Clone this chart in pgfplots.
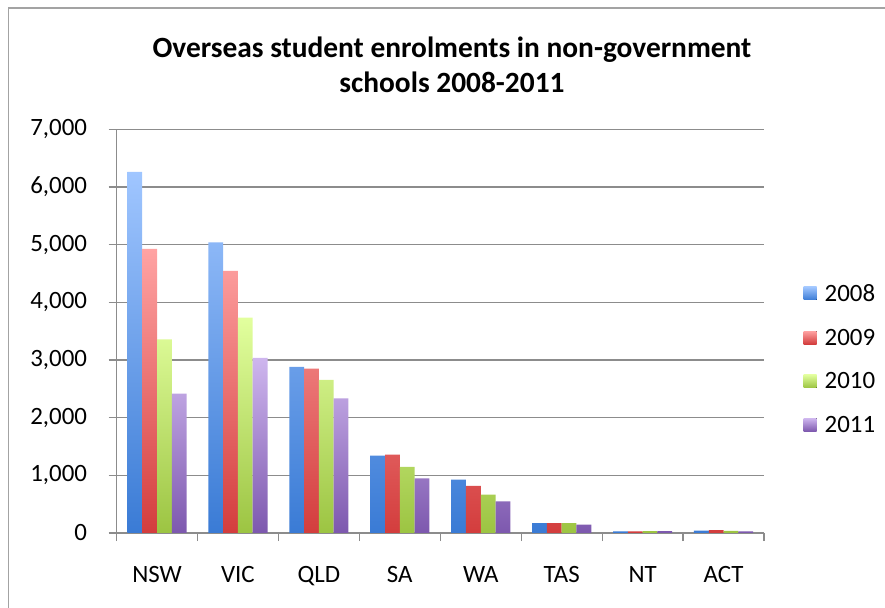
\documentclass[border=0pt]{standalone}
\usepackage{pgfplots}
\pgfplotsset{compat=1.18}
\usepackage{fontspec}
\setmainfont{Carlito}
\definecolor{gridgray}{HTML}{8C8C8C}
\definecolor{aT}{HTML}{A0C6FF}\definecolor{aB}{HTML}{3A7BD5}
\definecolor{bT}{HTML}{FFA3A3}\definecolor{bB}{HTML}{D33D3D}
\definecolor{cT}{HTML}{E2FF9E}\definecolor{cB}{HTML}{9CC442}
\definecolor{dT}{HTML}{CEB6EE}\definecolor{dB}{HTML}{7D58AE}
\begin{document}
\begin{tikzpicture}
\useasboundingbox (0bp,0bp) rectangle (885bp,608bp);
\draw[gridgray!80, line width=1.3bp] (8.5bp,0bp) -- (8.5bp,600bp) -- (885bp,600bp);
\begin{axis}[
  at={(157bp,75bp)}, anchor=origin,
  scale only axis, width=647.5bp, height=403.7bp,
  ybar=0pt, bar width=14.8bp,
  xmin=-0.5, xmax=7.5, ymin=0, ymax=7000,
  axis x line*=bottom, axis y line*=left,
  axis line style={gridgray, line width=1.3bp},
  ymajorgrids, grid style={gridgray, line width=1.3bp},
  ytick={0,1000,...,7000},
  xtick={-0.5,0.5,...,7.5}, xticklabels={,,,,,,,,,},
  extra x ticks={0,1,2,3,4,5,6,7},
  extra x tick labels={NSW,VIC,QLD,SA,WA,TAS,NT,ACT},
  extra x tick style={xtick style={draw=none}},
  tick align=outside, major tick length=8bp,
  tick style={gridgray, line width=1.3bp},
  /pgf/number format/assume math mode=true,
  /pgf/number format/1000 sep={,},
  ticklabel style={font=\fontsize{25}{30}\selectfont},
  yticklabel style={xshift=-18bp},
  xticklabel style={yshift=-22bp},
  title={Overseas student enrolments in non-government\\schools 2008-2011},
  title style={at={(0.518,1.145)}, anchor=center, align=center,
    font=\bfseries\fontsize{29.5}{36}\selectfont},
  legend style={draw=none, at={(1.0563,0.43)}, anchor=west,
    font=\fontsize{25}{30}\selectfont, row sep=22bp},
  legend cell align=left,
  legend image code/.code={\fill[#1] (0bp,-6bp) rectangle (13bp,7bp); \path (13bp,0bp) -- (19bp,0bp);},
]
\addplot[draw=none, top color=aT, bottom color=aB] coordinates {(0,6260) (1,5040) (2,2879) (3,1341) (4,925) (5,173) (6,30) (7,42)};
\addplot[draw=none, top color=bT, bottom color=bB] coordinates {(0,4925) (1,4543) (2,2850) (3,1358) (4,815) (5,173) (6,30) (7,50)};
\addplot[draw=none, top color=cT, bottom color=cB] coordinates {(0,3358) (1,3734) (2,2653) (3,1145) (4,665) (5,173) (6,32) (7,35)};
\addplot[draw=none, top color=dT, bottom color=dB] coordinates {(0,2416) (1,3035) (2,2335) (3,948) (4,549) (5,144) (6,34) (7,28)};
\legend{2008,2009,2010,2011}
\end{axis}
\end{tikzpicture}
\end{document}
